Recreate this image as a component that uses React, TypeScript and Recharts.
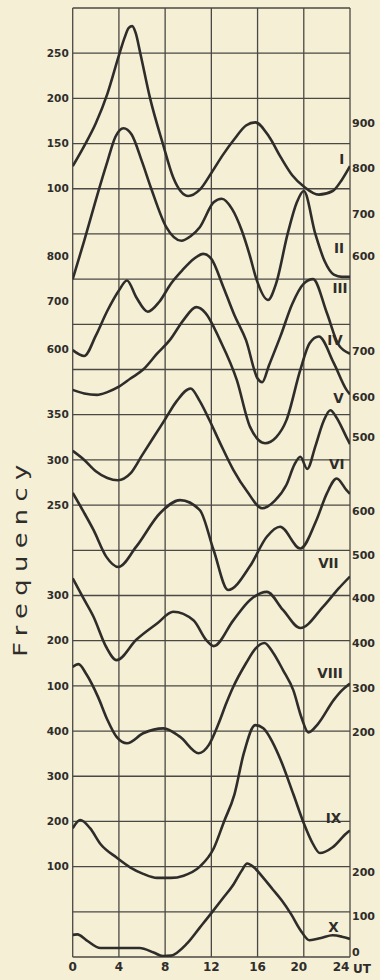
import { ComposedChart, Line, Scatter, XAxis, YAxis, CartesianGrid } from "recharts";

const PAPER = "#f5efd6";
const INK = "#2e2d2a";
const GRID = "#4a4842";
const FONT = "'DejaVu Sans', Arial, sans-serif";

// bottom axis, UT hours
const hourTicks = [0, 4, 8, 12, 16, 20, 24];
// ruled rows of the stacked panel, counted from the bottom
const gridRows = [0, 1, 2, 3, 4, 5, 6, 7, 8, 9, 10, 11, 12, 13, 14, 15, 16, 17, 18, 19, 20, 21];

// left-hand scale labels and the row they sit on
const leftTickPos = [20, 19, 18, 17, 15.5, 14.5, 13.45, 12, 11, 10, 8, 7, 6, 5, 4, 3, 2];
const leftTickText = ["250", "200", "150", "100", "800", "700", "600", "350", "300", "250", "300", "200", "100", "400", "300", "200", "100"];

// right-hand scale labels
const rightTickPos = [18.45, 17.45, 16.45, 15.5, 13.4, 12.4, 11.5, 9.87, 8.9, 7.95, 6.95, 5.95, 4.98, 1.88, 0.9, 0.1];
const rightTickText = ["900", "800", "700", "600", "700", "600", "500", "600", "500", "400", "400", "300", "200", "200", "100", "0"];

// curves (hour, level in panel rows)
const hoursI = [0, 1, 2, 3, 4, 4.5, 4.85, 5.15, 5.45, 5.85, 6.7, 7.8, 8.7, 10, 11, 12, 13, 14, 15, 15.8, 17, 18, 19, 20, 21.3, 22.5, 23.3, 24];
const levelsI = [17.5, 17.95, 18.45, 19.1, 19.95, 20.35, 20.56, 20.6, 20.45, 20.0, 19.0, 18.0, 17.25, 16.84, 16.98, 17.35, 17.75, 18.1, 18.4, 18.47, 18.15, 17.7, 17.3, 17.05, 16.87, 16.95, 17.2, 17.5];

const hoursII = [0, 1, 2, 3, 3.7, 4.4, 5.1, 6, 6.8, 8.1, 9.4, 10.2, 11, 12.2, 12.9, 13.8, 14.6, 15.3, 15.9, 16.9, 17.6, 18.6, 19.4, 20, 21, 21.8, 22.6, 23.3, 24];
const levelsII = [15.0, 15.85, 16.75, 17.6, 18.15, 18.34, 18.2, 17.6, 17.0, 16.15, 15.85, 15.95, 16.15, 16.7, 16.78, 16.55, 16.1, 15.55, 15.0, 14.54, 14.9, 16.0, 16.7, 16.95, 16.0, 15.4, 15.1, 15.05, 15.05];

const hoursIII = [0, 1, 2, 3, 4, 4.7, 5.5, 6.5, 7.5, 8.5, 9.5, 10.5, 11.3, 12, 13, 14, 15, 16, 16.4, 17, 18, 19, 20, 20.8, 22, 23, 24];
const levelsIII = [13.43, 13.3, 13.75, 14.3, 14.75, 14.97, 14.6, 14.28, 14.5, 14.9, 15.2, 15.45, 15.56, 15.45, 14.85, 14.2, 13.65, 12.8, 12.72, 13.1, 13.75, 14.45, 14.9, 15.0, 14.25, 13.55, 13.35];

const hoursIV = [0, 1, 2.1, 3, 4, 5, 6.1, 7.3, 8.4, 9.6, 10.7, 11.5, 12.75, 14.2, 15.35, 16.65, 17.6, 18.5, 19.7, 20.5, 21.3, 22.6, 23.7, 24];
const levelsIV = [12.55, 12.47, 12.44, 12.5, 12.62, 12.8, 13.0, 13.35, 13.65, 14.1, 14.38, 14.25, 13.65, 12.77, 11.73, 11.37, 11.5, 11.88, 12.99, 13.58, 13.73, 13.14, 12.55, 12.45];

const hoursV = [0, 1, 2, 3, 3.9, 5, 6, 7, 8, 9, 10.2, 11, 11.8, 12.8, 13.9, 15.1, 16.4, 17.5, 18.5, 19.2, 19.7, 20.3, 21, 21.7, 22.3, 22.8, 23.7, 24];
const levelsV = [11.2, 11.0, 10.75, 10.6, 10.55, 10.7, 11.1, 11.5, 11.9, 12.3, 12.58, 12.3, 11.9, 11.35, 10.78, 10.3, 9.93, 10.1, 10.45, 10.9, 11.07, 10.8, 11.3, 11.85, 12.1, 11.95, 11.5, 11.35];

const hoursVI = [0, 0.9, 1.8, 2.9, 3.95, 5.5, 7.55, 9.3, 11, 12.2, 13.45, 15.35, 16.8, 17.95, 19.7, 21.1, 22, 22.85, 23.7, 24];
const levelsVI = [10.27, 9.87, 9.45, 8.86, 8.63, 9.08, 9.82, 10.11, 9.89, 9.0, 8.12, 8.65, 9.3, 9.52, 9.04, 9.67, 10.26, 10.59, 10.33, 10.25];

const hoursVII = [0, 0.9, 1.8, 2.9, 3.8, 5.5, 7.3, 8.7, 10.45, 11.6, 12.2, 13.9, 15.35, 16.8, 18.2, 19.7, 21.7, 23, 24];
const levelsVII = [8.38, 7.95, 7.53, 6.86, 6.57, 7.02, 7.38, 7.64, 7.45, 7.0, 6.88, 7.45, 7.9, 8.08, 7.68, 7.28, 7.76, 8.15, 8.42];

const hoursVIII = [0, 0.5, 1.2, 2.2, 3.0, 3.8, 4.7, 6.1, 7.85, 9.3, 10.9, 11.8, 12.6, 13.3, 13.9, 15, 15.8, 16.6, 17.3, 18.2, 19.1, 19.8, 20.4, 21.2, 22.6, 23.3, 24];
const levelsVIII = [6.42, 6.48, 6.25, 5.75, 5.25, 4.87, 4.73, 4.95, 5.06, 4.87, 4.51, 4.7, 5.15, 5.62, 5.98, 6.5, 6.82, 6.95, 6.75, 6.35, 5.9, 5.3, 4.97, 5.15, 5.69, 5.9, 6.05];

const hoursIX = [0, 0.65, 1.5, 2.4, 3.8, 5, 6.1, 7.3, 8.5, 9.6, 11, 12.2, 13.1, 14, 14.8, 15.8, 16.5, 17.3, 18, 19.1, 20, 20.7, 21.4, 22.5, 23.7, 24];
const levelsIX = [2.85, 3.03, 2.85, 2.5, 2.2, 1.98, 1.84, 1.75, 1.75, 1.8, 2.0, 2.4, 3.0, 3.6, 4.5, 5.13, 5.06, 4.75, 4.36, 3.6, 2.96, 2.55, 2.3, 2.43, 2.74, 2.8];

const hoursX = [0, 0.4, 1.2, 2.4, 4, 5.8, 7, 7.8, 8.5, 9.9, 11, 12, 13, 13.9, 14.6, 15.1, 15.7, 16.5, 17.3, 18.1, 18.9, 19.7, 20.5, 21.5, 22.5, 23.3, 24];
const levelsX = [0.49, 0.5, 0.37, 0.2, 0.2, 0.2, 0.1, 0.02, 0.03, 0.3, 0.65, 0.97, 1.3, 1.6, 1.9, 2.07, 1.98, 1.75, 1.5, 1.25, 0.95, 0.6, 0.37, 0.42, 0.48, 0.45, 0.4];

// curve tags at the right-hand end
const romanNames = ["I", "II", "III", "IV", "V", "VI", "VII", "VIII", "IX", "X"];
const romanHours = [23.29, 23.05, 23.14, 22.7, 23.0, 22.85, 22.13, 22.28, 22.56, 22.56];
const romanLevels = [17.66, 15.69, 14.8, 13.65, 12.37, 10.91, 8.72, 6.28, 3.08, 0.65];

const toPoints = (hours: number[], levels: number[]) => hours.map((h, i) => ({ h, g: levels[i] }));

const series = [
    { name: "I", points: toPoints(hoursI, levelsI) },
    { name: "II", points: toPoints(hoursII, levelsII) },
    { name: "III", points: toPoints(hoursIII, levelsIII) },
    { name: "IV", points: toPoints(hoursIV, levelsIV) },
    { name: "V", points: toPoints(hoursV, levelsV) },
    { name: "VI", points: toPoints(hoursVI, levelsVI) },
    { name: "VII", points: toPoints(hoursVII, levelsVII) },
    { name: "VIII", points: toPoints(hoursVIII, levelsVIII) },
    { name: "IX", points: toPoints(hoursIX, levelsIX) },
    { name: "X", points: toPoints(hoursX, levelsX) },
];

const romanPoints = romanNames.map((name, i) => ({ name, h: romanHours[i], g: romanLevels[i] }));

const RomanTag = (props: any) => {
    const { cx, cy, payload } = props;
    if (cx == null || cy == null) return null;
    return (
        <text x={cx} y={cy} dy="0.36em" textAnchor="middle" fontFamily={FONT} fontWeight="bold" fontSize={13.5} fill={INK}>
            {payload.name}
        </text>
    );
};

// the last two hour labels sit a little left of their rule in the scan
const HourTick = (props: any) => {
    const { x, y, payload } = props;
    const nudge = payload.value === 24 ? -9 : payload.value === 20 ? -5 : 0;
    return (
        <text x={x + nudge} y={y} dy="0.71em" textAnchor="middle" fontFamily={FONT} fontWeight="bold" fontSize={12} fill={INK}>
            {payload.value}
        </text>
    );
};

export default function App() {
    return (
        <div style={{ position: "relative", width: 380, height: 980, background: PAPER, overflow: "hidden" }}>
            <style>{`body{margin:0;background:${PAPER}}`}</style>
            <ComposedChart width={380} height={980} margin={{ top: 8, right: 0, bottom: 0, left: 0 }}>
                <CartesianGrid stroke={GRID} strokeWidth={1.3} horizontalValues={gridRows} verticalValues={hourTicks} />
                <XAxis
                    type="number"
                    dataKey="h"
                    domain={[0, 24]}
                    ticks={hourTicks}
                    interval={0}
                    height={23}
                    axisLine={false}
                    tickLine={false}
                    tickSize={0}
                    tickMargin={5}
                    tick={<HourTick />}
                    allowDataOverflow
                    label={{ value: "UT", position: "right", offset: 3, fontFamily: FONT, fontWeight: "bold", fontSize: 12, fill: INK }}
                />
                <YAxis
                    type="number"
                    domain={[0, 21]}
                    ticks={leftTickPos}
                    interval={0}
                    width={72.7}
                    axisLine={false}
                    tickLine={false}
                    tickSize={0}
                    tickMargin={4}
                    allowDataOverflow
                    tick={{ fontFamily: FONT, fontWeight: "bold", fontSize: 10.5, fill: INK }}
                    tickFormatter={(v: number) => leftTickText[leftTickPos.indexOf(v)]}
                />
                <YAxis
                    yAxisId="right"
                    orientation="right"
                    type="number"
                    domain={[0, 21]}
                    ticks={rightTickPos}
                    interval={0}
                    width={30}
                    axisLine={false}
                    tickLine={false}
                    tickSize={0}
                    tickMargin={2}
                    allowDataOverflow
                    tick={{ fontFamily: FONT, fontWeight: "bold", fontSize: 11, fill: INK }}
                    tickFormatter={(v: number) => rightTickText[rightTickPos.indexOf(v)]}
                />
                {series.map((s) => (
                    <Line
                        key={s.name}
                        data={s.points}
                        dataKey="g"
                        type="monotone"
                        stroke={INK}
                        strokeWidth={2.6}
                        strokeLinejoin="round"
                        dot={false}
                        activeDot={false}
                        isAnimationActive={false}
                    />
                ))}
                <Scatter data={romanPoints} dataKey="g" shape={<RomanTag />} isAnimationActive={false} />
            </ComposedChart>
            <svg width={380} height={980} style={{ position: "absolute", left: 0, top: 0, pointerEvents: "none" }}>
                <text
                    transform="translate(27,557) rotate(-90) scale(1.35,1)"
                    textAnchor="middle"
                    fontFamily={FONT}
                    fontSize={19}
                    letterSpacing={5.5}
                    fill={INK}
                >
                    Frequency
                </text>
            </svg>
        </div>
    );
}
